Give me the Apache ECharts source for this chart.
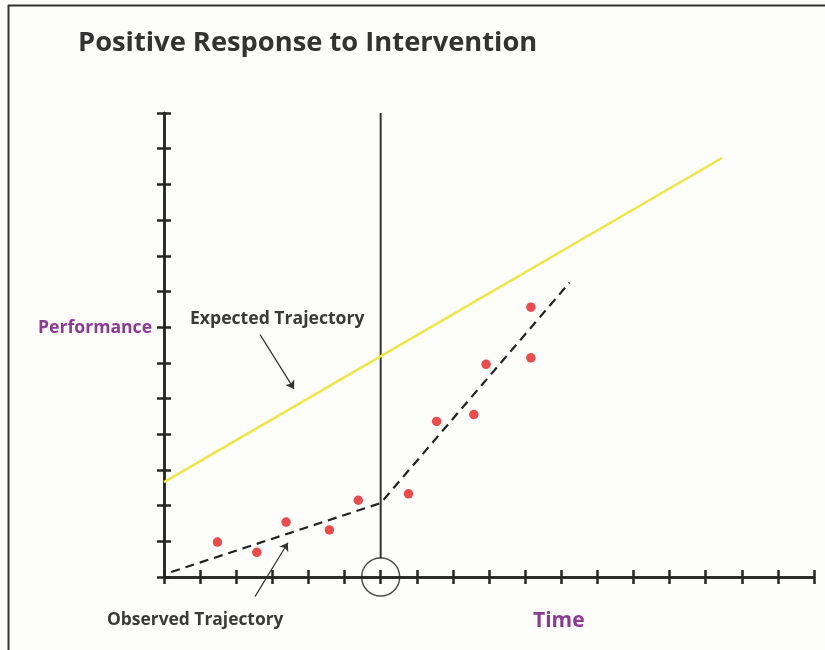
<!DOCTYPE html>
<html>
<head>
<meta charset="utf-8">
<script src="https://cdn.jsdelivr.net/npm/echarts@6/dist/echarts.min.js"></script>
<style>
html,body{margin:0;padding:0;background:#fdfdfc;}
#chart{width:825px;height:650px;}
</style>
</head>
<body>
<div id="chart"></div>
<script>
// ---- data ----
var titleText = 'Positive Response to Intervention';
var xRange = [0, 18];
var yRange = [0, 13];
var expectedLine = [[0, 2.66], [15.45, 11.74]];
var observedTrend = [[0.2, 0.14], [6, 2.07], [11.23, 8.25]];
var observedPoints = [
  [1.48, 0.98], [2.57, 0.69], [3.38, 1.54], [4.58, 1.32], [5.38, 2.15],
  [6.77, 2.33], [7.55, 4.36], [8.58, 4.55], [8.92, 5.96], [10.16, 7.56], [10.16, 6.14]
];
var interventionLine = [[6, 13], [6, 0.53]];
var interventionMarker = [[6, 0]];
var expectedArrow = [[2.66, 6.79], [3.60, 5.27]];
var observedArrow = [[2.52, -0.55], [3.43, 0.96]];
var labels = {
  performance: 'Performance',
  time: 'Time',
  expected: 'Expected Trajectory',
  observed: 'Observed Trajectory'
};

var FONT = '"Open Sans", "Noto Sans", sans-serif';
var DARK = '#262626';
var PURPLE = '#8c3b93';

var chart = echarts.init(document.getElementById('chart'));

function axisBase(extra) {
  return Object.assign({
    type: 'value',
    interval: 1,
    axisLine: { show: true, onZero: false, lineStyle: { color: DARK, width: 2.5 } },
    axisTick: { show: true, length: 7, lineStyle: { color: DARK, width: 2.5 } },
    axisLabel: { show: false },
    splitLine: { show: false }
  }, extra);
}

var option = {
  backgroundColor: '#fdfdfc',
  animation: false,
  title: {
    text: titleText,
    left: 73,
    top: 25,
    textStyle: { fontFamily: FONT, fontWeight: 'bold', fontSize: 27.3, color: '#333333' }
  },
  grid: { left: 164, right: 11, top: 113, bottom: 73, containLabel: false },
  xAxis: [
    axisBase({ min: xRange[0], max: xRange[1], position: 'bottom' }),
    axisBase({ min: xRange[0], max: xRange[1], position: 'bottom', offset: 0,
      axisTick: { show: true, inside: true, length: 7, lineStyle: { color: DARK, width: 2.5 } } })
  ],
  yAxis: [
    axisBase({ min: yRange[0], max: yRange[1], position: 'left' }),
    axisBase({ min: yRange[0], max: yRange[1], position: 'left', offset: 0,
      axisTick: { show: true, inside: true, length: 7, lineStyle: { color: DARK, width: 2.5 } } })
  ],
  graphic: [
    { type: 'line', shape: { x1: 8, y1: 5.5, x2: 825, y2: 5.5 }, style: { stroke: '#333', lineWidth: 2 }, silent: true },
    { type: 'line', shape: { x1: 8.5, y1: 5, x2: 8.5, y2: 650 }, style: { stroke: '#333', lineWidth: 2 }, silent: true },
    { type: 'text', left: 38, top: 319, style: { text: labels.performance, font: 'bold 17.6px ' + FONT, fill: PURPLE } },
    { type: 'text', left: 190, top: 310, style: { text: labels.expected, font: 'bold 17.6px ' + FONT, fill: '#3a3a3a' } },
    { type: 'text', left: 107, top: 612, style: { text: labels.observed, font: 'bold 17.4px ' + FONT, fill: '#3a3a3a' } },
    { type: 'text', left: 533, top: 611, style: { text: labels.time, font: 'bold 21px ' + FONT, fill: PURPLE } }
  ],
  series: [
    {
      type: 'line', data: expectedLine, symbol: 'none', clip: false,
      lineStyle: { color: '#f0e447', width: 2.5 }, z: 3
    },
    {
      type: 'line', data: interventionLine, symbol: 'none', clip: false,
      lineStyle: { color: '#333333', width: 2 }, z: 2
    },
    {
      type: 'line', data: observedTrend, symbol: 'none', clip: false,
      lineStyle: { color: '#222222', width: 2.2, type: [9, 6] }, z: 4
    },
    {
      type: 'scatter', data: observedPoints, symbol: 'circle', symbolSize: 9.5, clip: false,
      itemStyle: { color: '#e1201f' }, z: 5
    },
    {
      type: 'scatter', data: interventionMarker, symbol: 'circle', symbolSize: 38, clip: false,
      itemStyle: { color: 'rgba(0,0,0,0)', borderColor: '#222222', borderWidth: 1.5 }, z: 6
    },
    {
      type: 'lines', coordinateSystem: 'cartesian2d', clip: false,
      symbol: ['none', 'arrow'], symbolSize: 8,
      lineStyle: { color: '#333333', width: 1.2, opacity: 1 },
      data: [{ coords: expectedArrow }, { coords: observedArrow }], z: 6
    }
  ]
};
chart.setOption(option);
</script>
</body>
</html>
